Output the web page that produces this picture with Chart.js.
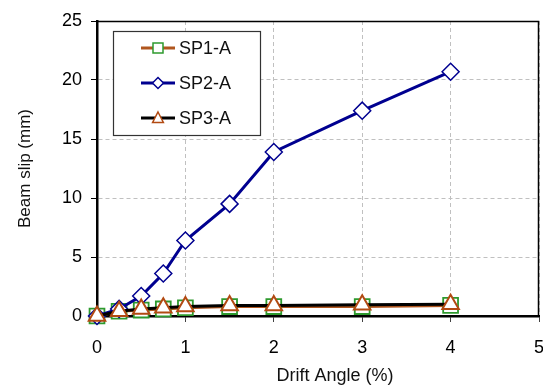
<!DOCTYPE html>
<html>
<head>
<meta charset="utf-8">
<script src="https://cdn.jsdelivr.net/npm/chart.js@4/dist/chart.umd.min.js"></script>
<style>
    html, body { margin: 0; padding: 0; background: #ffffff; }
    #wrap { width: 543px; height: 385px; position: relative; }
</style>
</head>
<body>
<div id="wrap"><canvas id="slipChart"></canvas></div>
<script>
const driftAngles = [0, 0.25, 0.5, 0.75, 1, 1.5, 2, 3, 4];
const sp1Slip = [0, 0.4, 0.5, 0.6, 0.7, 0.8, 0.8, 0.8, 0.9];
const sp2Slip = [0, 0.6, 1.7, 3.6, 6.4, 9.5, 13.9, 17.4, 20.7];
const sp3Slip = [0, 0.4, 0.6, 0.7, 0.8, 0.9, 0.9, 0.95, 1.0];
const seriesNames = ['SP1-A', 'SP2-A', 'SP3-A'];
const xTicks = [0, 1, 2, 3, 4, 5];
const yTicks = [0, 5, 10, 15, 20, 25];
const xTitle = 'Drift Angle (%)';
const yTitle = 'Beam slip (mm)';

const FONT = "'Liberation Sans', Arial, sans-serif";

function toPoints(vals) {
    return driftAngles.map((x, i) => ({ x: x, y: vals[i] }));
}

// draws a small marker for the legend
function drawMarker(ctx, style, x, y, r, stroke) {
    ctx.save();
    ctx.beginPath();
    if (style === 'rect') {
        ctx.rect(x - r, y - r, 2 * r, 2 * r);
    } else if (style === 'rectRot') {
        ctx.moveTo(x - r, y);
        ctx.lineTo(x, y - r);
        ctx.lineTo(x + r, y);
        ctx.lineTo(x, y + r);
        ctx.closePath();
    } else {
        ctx.moveTo(x, y - r);
        ctx.lineTo(x + r * 0.9, y + r * 0.75);
        ctx.lineTo(x - r * 0.9, y + r * 0.75);
        ctx.closePath();
    }
    ctx.fillStyle = '#ffffff';
    ctx.fill();
    ctx.lineWidth = 1.5;
    ctx.strokeStyle = stroke;
    ctx.stroke();
    ctx.restore();
}

const frameAndLegend = {
    id: 'frameAndLegend',
    afterDraw(chart) {
        const ctx = chart.ctx;
        const a = chart.chartArea;
        ctx.save();
        // top and right frame
        ctx.strokeStyle = '#000000';
        ctx.lineWidth = 1.5;
        ctx.beginPath();
        ctx.moveTo(a.left, a.top + 0.5);
        ctx.lineTo(a.right - 0.5, a.top + 0.5);
        ctx.lineTo(a.right - 0.5, a.bottom);
        ctx.stroke();

        // x axis title, sits a little right of centre in the original
        ctx.fillStyle = '#111111';
        ctx.font = '18px ' + FONT;
        ctx.textAlign = 'center';
        ctx.textBaseline = 'middle';
        ctx.fillText(xTitle, (a.left + a.right) / 2 + 17, 376);

        // legend box
        const lx = a.left + 16, ly = a.top + 10, lw = 147, lh = 104;
        ctx.fillStyle = '#ffffff';
        ctx.fillRect(lx, ly, lw, lh);
        ctx.lineWidth = 1.2;
        ctx.strokeStyle = '#333333';
        ctx.strokeRect(lx + 0.5, ly + 0.5, lw, lh);

        const markerSize = [5, 5.5, 6];
        chart.data.datasets.forEach((ds, i) => {
            const cy = ly + 17 + i * 35;
            ctx.strokeStyle = ds.borderColor;
            ctx.lineWidth = 3;
            ctx.beginPath();
            ctx.moveTo(lx + 28, cy);
            ctx.lineTo(lx + 62, cy);
            ctx.stroke();
            drawMarker(ctx, ds.pointStyle, lx + 45, cy, markerSize[i], ds.pointBorderColor);
            ctx.fillStyle = '#111111';
            ctx.font = '18px ' + FONT;
            ctx.textBaseline = 'middle';
            ctx.textAlign = 'left';
            ctx.fillText(ds.label, lx + 66, cy + 1);
        });
        ctx.restore();
    }
};

new Chart(document.getElementById('slipChart'), {
    type: 'line',
    data: {
        datasets: [
            {
                label: seriesNames[0],
                data: toPoints(sp1Slip),
                borderColor: '#b0561e',
                borderWidth: 3,
                pointStyle: 'rect',
                pointRadius: 10.5,
                pointBorderColor: '#2e9a2e',
                pointBackgroundColor: '#ffffff',
                pointBorderWidth: 1.8,
                clip: false,
                order: 2
            },
            {
                label: seriesNames[1],
                data: toPoints(sp2Slip),
                borderColor: '#000090',
                borderWidth: 3,
                pointStyle: 'rectRot',
                pointRadius: 8.5,
                pointBorderColor: '#000090',
                pointBackgroundColor: '#ffffff',
                pointBorderWidth: 1.5,
                clip: false,
                order: 1
            },
            {
                label: seriesNames[2],
                data: toPoints(sp3Slip),
                borderColor: '#000000',
                borderWidth: 3,
                pointStyle: 'triangle',
                pointRadius: 9.5,
                pointBorderColor: '#b24a12',
                pointBackgroundColor: '#ffffff',
                pointBorderWidth: 2,
                clip: false,
                order: 0
            }
        ]
    },
    options: {
        responsive: true,
        maintainAspectRatio: false,
        animation: false,
        layout: { autoPadding: false, padding: { left: 0, top: 21, right: 4, bottom: 0 } },
        plugins: {
            legend: { display: false },
            tooltip: { enabled: false }
        },
        elements: { line: { tension: 0 } },
        scales: {
            x: {
                type: 'linear',
                min: 0,
                max: 5,
                afterBuildTicks: (scale) => { scale.ticks = xTicks.map(v => ({ value: v })); },
                afterFit: (scale) => {
                    scale.height = 69;
                    scale.paddingLeft = 0;
                    scale.paddingRight = 0;
                },
                grid: {
                    color: '#c0c0c0',
                    lineWidth: 1,
                    tickColor: '#000000',
                    tickLength: 6,
                    tickBorderDash: [1, 0]
                },
                border: { color: '#000000', width: 2.5, dash: [4, 3] },
                ticks: {
                    color: '#000000',
                    font: { size: 18, family: FONT },
                    padding: 15,
                    maxRotation: 0
                }
            },
            y: {
                min: 0,
                max: 25,
                afterBuildTicks: (scale) => { scale.ticks = yTicks.map(v => ({ value: v })); },
                afterFit: (scale) => {
                    scale.width = 97;
                    scale.paddingTop = 0;
                    scale.paddingBottom = 0;
                },
                grid: {
                    color: '#c0c0c0',
                    lineWidth: 1,
                    tickColor: '#000000',
                    tickLength: 6,
                    tickBorderDash: [1, 0]
                },
                border: { color: '#000000', width: 2.5, dash: [4, 3] },
                ticks: {
                    color: '#000000',
                    font: { size: 18, family: FONT },
                    padding: 9
                },
                title: {
                    display: true,
                    text: yTitle,
                    color: '#111111',
                    font: { size: 17, family: FONT },
                    padding: { top: 15, bottom: 0 }
                }
            }
        }
    },
    plugins: [frameAndLegend]
});
</script>
</body>
</html>
